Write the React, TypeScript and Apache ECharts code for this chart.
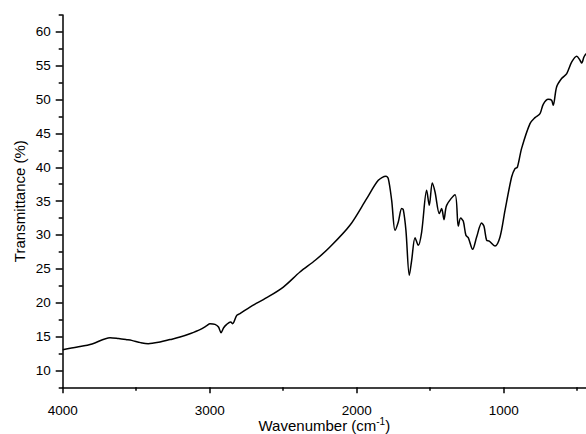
import React, { useEffect, useRef } from "react";
import * as echarts from "echarts";

// Wavenumber (cm^-1)
const wavenumbers: number[] = [
  4000, 3900, 3800, 3678, 3620, 3565, 3531, 3470, 3418, 3338, 3270, 3202, 3130, 3066,
  3020, 2998, 2964, 2940, 2923, 2905, 2884, 2857, 2844, 2816, 2794, 2726, 2612, 2499,
  2386, 2280, 2182, 2046, 1932, 1853, 1801, 1785, 1762, 1739, 1717, 1694, 1683, 1665,
  1642, 1626, 1603, 1581, 1558, 1524, 1506, 1486, 1467, 1438, 1422, 1406, 1388, 1331,
  1309, 1293, 1275, 1257, 1241, 1211, 1184, 1150, 1134, 1116, 1098, 1059, 1025, 991,
  946, 923, 907, 878, 821, 787, 753, 731, 697, 674, 663, 640, 606, 571, 537, 503, 481,
  469, 454, 440,
];

// Transmittance (%)
const transmittance: number[] = [
  13.06, 13.44, 13.9, 14.83, 14.7, 14.54, 14.43, 14.1, 13.94, 14.19, 14.55, 14.92, 15.45, 16.01,
  16.6, 16.9, 16.8, 16.4, 15.57, 16.3, 16.8, 17.14, 16.9, 18.13, 18.38, 19.35, 20.74, 22.31,
  24.53, 26.3, 28.22, 31.43, 35.37, 38.08, 38.67, 38.33, 35.12, 30.69, 31.92, 33.9, 33.75, 30.69,
  24.04, 26.26, 29.61, 28.47, 30.44, 36.6, 34.38, 37.68, 36.35, 33.16, 33.9, 32.27, 34.38, 35.96,
  31.28, 32.5, 32.06, 29.95, 29.61, 27.88, 29.7, 31.77, 31.28, 29.21, 29.11, 28.37, 29.7, 33.64,
  38.57, 39.81, 40.0, 42.8, 46.46, 47.34, 47.93, 49.31, 50.05, 49.9, 49.16, 51.87, 53.11, 53.85,
  55.56, 56.4, 55.81, 55.41, 56.3, 56.8,
];

const xMajorTicks: number[] = [4000, 3000, 2000, 1000];
const xMinorTicks: number[] = [3500, 2500, 1500, 500];
const yMajorTicks: number[] = [10, 15, 20, 25, 30, 35, 40, 45, 50, 55, 60];
const yMinorTicks: number[] = [7.5, 12.5, 17.5, 22.5, 27.5, 32.5, 37.5, 42.5, 47.5, 52.5, 57.5, 62.5];

const FONT = "Liberation Sans, Arial, sans-serif";

export default function App() {
  const ref = useRef<HTMLDivElement>(null);

  useEffect(() => {
    if (!ref.current) return;
    const chart = echarts.init(ref.current, undefined, { renderer: "svg" });
    const xMin = 440;
    const xMax = 4000;
    const yMin = 7.5;
    const yMax = 62.5;
    const axisLine = { show: true, lineStyle: { color: "#000", width: 1.5 } };

    chart.setOption({
      animation: false,
      backgroundColor: "#fff",
      textStyle: { fontFamily: FONT },
      grid: {
        left: 62.7,
        right: 0,
        top: 15,
        bottom: 46.7,
        containLabel: false,
        outerBoundsMode: "none",
      },
      xAxis: [
        {
          type: "value",
          inverse: true,
          min: xMin,
          max: xMax,
          axisLine,
          splitLine: { show: false },
          axisTick: {
            show: true,
            inside: false,
            length: 6,
            customValues: xMajorTicks,
            lineStyle: { color: "#000", width: 1.5 },
          },
          axisLabel: {
            customValues: xMajorTicks,
            formatter: (v: number) => String(v),
            color: "#000",
            fontSize: 13.5,
            fontFamily: FONT,
            margin: 16,
          },
          name: "{n|Wavenumber (cm}{s|-1}{n|)}",
          nameLocation: "middle",
          nameGap: 29,
          nameMoveOverlap: false,
          nameTextStyle: {
            color: "#000",
            fontFamily: FONT,
            fontSize: 15,
            rich: {
              n: { fontSize: 15, fontFamily: FONT, color: "#000", lineHeight: 18 },
              s: { fontSize: 10, fontFamily: FONT, color: "#000", verticalAlign: "top", lineHeight: 18 },
            },
          },
        },
        {
          type: "value",
          inverse: true,
          min: xMin,
          max: xMax,
          position: "bottom",
          offset: 0,
          axisLine: { show: false },
          splitLine: { show: false },
          axisLabel: { show: false },
          axisTick: {
            show: true,
            length: 3.5,
            customValues: xMinorTicks,
            lineStyle: { color: "#000", width: 1.5 },
          },
        },
      ],
      yAxis: [
        {
          type: "value",
          min: yMin,
          max: yMax,
          axisLine,
          splitLine: { show: false },
          axisTick: {
            show: true,
            length: 7,
            customValues: yMajorTicks,
            lineStyle: { color: "#000", width: 1.5 },
          },
          axisLabel: {
            customValues: yMajorTicks,
            formatter: (v: number) => String(v),
            color: "#000",
            fontSize: 13.5,
            fontFamily: FONT,
            margin: 12,
          },
          name: "Transmittance (%)",
          nameLocation: "middle",
          nameGap: 36,
          nameMoveOverlap: false,
          nameTextStyle: { color: "#000", fontFamily: FONT, fontSize: 15 },
        },
        {
          type: "value",
          min: yMin,
          max: yMax,
          position: "left",
          offset: 0,
          axisLine: { show: false },
          splitLine: { show: false },
          axisLabel: { show: false },
          axisTick: {
            show: true,
            length: 4,
            customValues: yMinorTicks,
            lineStyle: { color: "#000", width: 1.5 },
          },
        },
      ],
      series: [
        {
          type: "line",
          xAxisIndex: 0,
          yAxisIndex: 0,
          data: wavenumbers.map((w, i) => [w, transmittance[i]]),
          showSymbol: false,
          smooth: 0.3,
          clip: true,
          lineStyle: { color: "#000", width: 1.5 },
        },
      ],
    });

    return () => chart.dispose();
  }, []);

  return (
    <div
      ref={ref}
      style={{ position: "fixed", left: 0, top: 0, width: 586, height: 434 }}
    />
  );
}
